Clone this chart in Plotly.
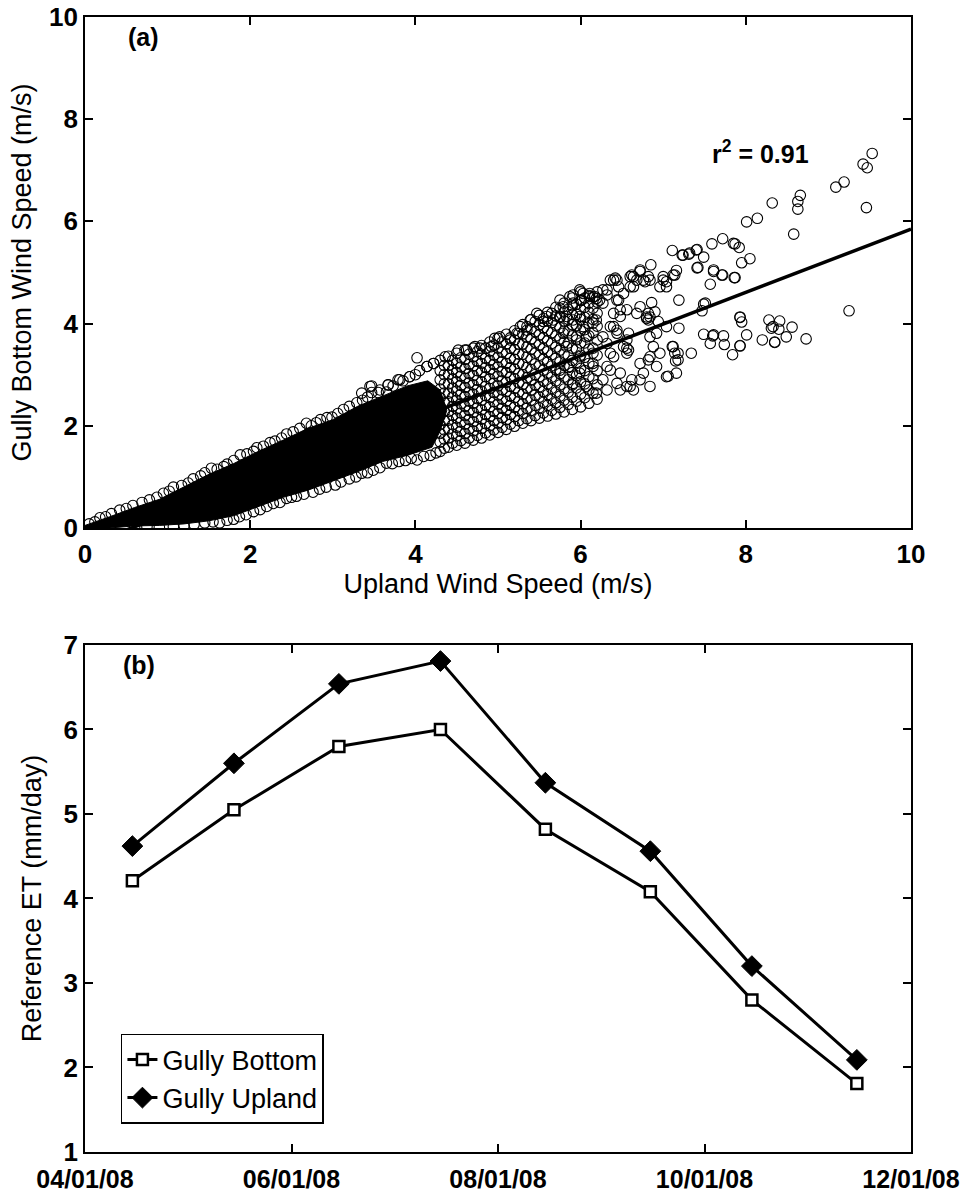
import plotly.graph_objects as go

# ---------------- Panel (a): wind speed scatter ----------------
# Saturated (solid black) core of the point cloud, outline
core_upland = [0.0, 0.0, 0.3, 0.6, 0.9, 1.2, 1.5, 1.8, 2.1, 2.4, 2.7, 3.0, 3.3, 3.6, 3.9, 4.15, 4.3, 4.38,
               4.3, 4.2, 3.9, 3.6, 3.3, 3.0, 2.7, 2.4, 2.1, 1.8, 1.5, 1.2, 0.9, 0.6, 0.3, 0.0]
core_bottom = [0.0, 0.05, 0.22, 0.4, 0.56, 0.8, 1.05, 1.26, 1.5, 1.72, 1.95, 2.12, 2.38, 2.58, 2.78, 2.88, 2.7, 2.3,
               1.9, 1.58, 1.42, 1.3, 1.1, 0.92, 0.74, 0.6, 0.42, 0.24, 0.14, 0.08, 0.05, 0.04, 0.0, 0.0]

# circles along the upper edge of the dense cloud
edge_upper = [(0.05, 0.08), (0.12, 0.12), (0.18, 0.2), (0.25, 0.22), (0.32, 0.28), (0.42, 0.35), (0.5, 0.38),
              (0.58, 0.44), (0.69, 0.5), (0.78, 0.55), (0.87, 0.6), (0.95, 0.68), (1.02, 0.72), (1.07, 0.8),
              (1.17, 0.83), (1.25, 0.88), (1.31, 0.96), (1.4, 1.02), (1.45, 1.08), (1.53, 1.17), (1.6, 1.15),
              (1.68, 1.2), (1.72, 1.25), (1.8, 1.32), (1.88, 1.43), (1.96, 1.45), (2.04, 1.5), (2.08, 1.57),
              (2.16, 1.6), (2.24, 1.67), (2.3, 1.7), (2.38, 1.76), (2.44, 1.84), (2.52, 1.88), (2.6, 1.95),
              (2.68, 2.05), (2.74, 2.0), (2.8, 2.06), (2.85, 2.12), (2.93, 2.16), (2.99, 2.17), (3.06, 2.24),
              (3.13, 2.32), (3.2, 2.38), (3.29, 2.45), (3.36, 2.5), (3.42, 2.56), (3.47, 2.78), (3.47, 2.65),
              (3.55, 2.65), (3.65, 2.66), (3.67, 2.8), (3.73, 2.78), (3.79, 2.9), (3.85, 2.88), (3.93, 2.96),
              (4.0, 3.0), (4.05, 3.08), (4.14, 3.16), (4.22, 3.22), (4.02, 3.33)]

# circles along the lower edge of the dense cloud
edge_lower = [(0.6, 0.02), (0.75, 0.03), (0.9, 0.02), (1.07, 0.03), (1.2, 0.05), (1.32, 0.07), (1.45, 0.1),
              (1.55, 0.12), (1.63, 0.1), (1.72, 0.15), (1.8, 0.17), (1.87, 0.22), (1.95, 0.26), (2.04, 0.32),
              (2.12, 0.36), (2.2, 0.42), (2.28, 0.48), (2.36, 0.5), (2.44, 0.58), (2.5, 0.6), (2.56, 0.62),
              (2.65, 0.66), (2.76, 0.7), (2.84, 0.76), (2.92, 0.8), (3.03, 0.84), (3.1, 0.9), (3.2, 0.96),
              (3.28, 1.0), (3.35, 1.07), (3.42, 1.08), (3.49, 1.13), (3.57, 1.18), (3.65, 1.27), (3.72, 1.26),
              (3.8, 1.3), (3.88, 1.32), (3.95, 1.36), (4.02, 1.33), (4.1, 1.4), (4.18, 1.42), (4.25, 1.47)]

# overlapping circles of the medium-density part of the cloud (upland speed, gully bottom speeds)
mesh_columns = [
    (4.3, [1.50, 1.68, 1.85, 2.02, 2.20, 2.38, 2.55, 2.72, 2.90, 3.08, 3.28]),
    (4.35, [1.56, 1.74, 1.92, 2.10, 2.28, 2.46, 2.64, 2.82, 3.00, 3.18]),
    (4.4, [1.58, 1.76, 1.94, 2.11, 2.28, 2.47, 2.64, 2.82, 3.00, 3.18, 3.36]),
    (4.45, [1.66, 1.84, 2.02, 2.20, 2.38, 2.56, 2.74, 2.92, 3.10, 3.28]),
    (4.5, [1.62, 1.80, 1.97, 2.15, 2.33, 2.50, 2.68, 2.86, 3.04, 3.22, 3.42]),
    (4.55, [1.71, 1.89, 2.07, 2.25, 2.43, 2.61, 2.79, 2.97, 3.15, 3.33]),
    (4.6, [1.66, 1.85, 2.03, 2.20, 2.38, 2.57, 2.75, 2.93, 3.12, 3.30, 3.48]),
    (4.65, [1.76, 1.94, 2.12, 2.30, 2.48, 2.66, 2.84, 3.02, 3.20, 3.40]),
    (4.7, [1.72, 1.90, 2.08, 2.26, 2.44, 2.62, 2.80, 2.98, 3.17, 3.35, 3.52]),
    (4.75, [1.81, 1.99, 2.17, 2.35, 2.53, 2.71, 2.89, 3.08, 3.26, 3.45]),
    (4.8, [1.76, 1.95, 2.13, 2.31, 2.50, 2.68, 2.86, 3.05, 3.22, 3.40, 3.57]),
    (4.85, [1.86, 2.04, 2.22, 2.40, 2.59, 2.77, 2.96, 3.14, 3.32, 3.52]),
    (4.9, [1.82, 2.00, 2.18, 2.37, 2.55, 2.73, 2.92, 3.10, 3.28, 3.46, 3.64]),
    (4.95, [1.92, 2.10, 2.28, 2.47, 2.65, 2.83, 3.02, 3.20, 3.38, 3.58]),
    (5.0, [1.87, 2.05, 2.24, 2.42, 2.60, 2.78, 2.97, 3.15, 3.34, 3.52, 3.71]),
    (5.05, [1.97, 2.16, 2.34, 2.52, 2.70, 2.88, 3.06, 3.25, 3.44, 3.64]),
    (5.1, [1.93, 2.12, 2.30, 2.48, 2.67, 2.85, 3.04, 3.22, 3.41, 3.60, 3.79]),
    (5.15, [2.03, 2.22, 2.40, 2.58, 2.77, 2.96, 3.14, 3.32, 3.52, 3.72]),
    (5.2, [1.99, 2.18, 2.36, 2.55, 2.73, 2.92, 3.11, 3.30, 3.49, 3.68, 3.86]),
    (5.25, [2.10, 2.30, 2.48, 2.66, 2.84, 3.02, 3.22, 3.40, 3.60, 3.80]),
    (5.3, [2.05, 2.24, 2.43, 2.62, 2.81, 3.00, 3.20, 3.40, 3.60, 3.80, 3.98]),
    (5.35, [2.14, 2.34, 2.54, 2.74, 2.94, 3.14, 3.34, 3.54, 3.74, 3.94]),
    (5.4, [2.10, 2.30, 2.50, 2.70, 2.90, 3.10, 3.30, 3.50, 3.70, 3.90, 4.08]),
    (5.45, [2.20, 2.40, 2.60, 2.80, 3.00, 3.21, 3.42, 3.63, 3.84, 4.04]),
    (5.5, [2.15, 2.35, 2.56, 2.76, 2.96, 3.17, 3.38, 3.58, 3.78, 3.98, 4.16]),
    (5.55, [2.25, 2.46, 2.67, 2.88, 3.09, 3.30, 3.51, 3.72, 3.92, 4.10]),
    (5.6, [2.19, 2.40, 2.61, 2.82, 3.03, 3.24, 3.45, 3.66, 3.86, 4.05, 4.22]),
    (5.65, [2.30, 2.52, 2.73, 2.95, 3.17, 3.39, 3.61, 3.82, 4.02, 4.20]),
    (5.7, [2.23, 2.45, 2.66, 2.88, 3.10, 3.32, 3.54, 3.76, 3.97, 4.15, 4.32]),
    (5.75, [2.36, 2.58, 2.80, 3.02, 3.25, 3.48, 3.70, 3.92, 4.12, 4.30]),
    (5.8, [2.27, 2.50, 2.72, 2.95, 3.18, 3.40, 3.63, 3.85, 4.05, 4.23, 4.40]),
    (5.85, [2.42, 2.66, 2.90, 3.14, 3.38, 3.62, 3.86, 4.08, 4.28]),
    (5.9, [2.32, 2.56, 2.80, 3.04, 3.28, 3.52, 3.76, 3.98, 4.18, 4.35, 4.50]),
    (5.95, [2.48, 2.74, 2.98, 3.24, 3.50, 3.74, 3.96, 4.18, 4.38]),
    (6.0, [2.37, 2.62, 2.86, 3.12, 3.38, 3.62, 3.86, 4.08, 4.28, 4.45, 4.62]),
    (6.05, [2.55, 2.82, 3.08, 3.34, 3.62, 3.88, 4.12, 4.32, 4.50]),
    (6.1, [2.44, 2.70, 2.96, 3.22, 3.50, 3.76, 4.00, 4.22, 4.40, 4.55]),
    (6.15, [2.64, 2.92, 3.22, 3.52, 3.82, 4.08, 4.30, 4.52]),
    (6.2, [2.52, 2.80, 3.08, 3.38, 3.68, 3.95, 4.20, 4.42, 4.62]),
]

# individually visible circles in the sparse part of the cloud
sparse = [
    (9.53, 7.33), (9.42, 7.12), (9.47, 7.05), (9.19, 6.77), (9.09, 6.67), (9.46, 6.27), (9.25, 4.25),
    (8.66, 6.51), (8.63, 6.39), (8.63, 6.24), (8.32, 6.36), (8.58, 5.75), (8.14, 6.06), (8.01, 5.99),
    (7.72, 5.66), (7.59, 5.56), (7.87, 5.56), (7.92, 5.49), (8.05, 5.27), (7.95, 5.19),
    (7.41, 5.45), (7.31, 5.36), (7.23, 5.34), (7.11, 5.43), (7.49, 5.30), (7.41, 5.09), (7.61, 5.02),
    (7.71, 4.95), (7.87, 4.90), (7.57, 4.77), (7.16, 5.04), (7.14, 4.95), (7.19, 4.46), (6.85, 5.15),
    (6.72, 5.02), (7.00, 4.92), (6.96, 4.72), (7.04, 4.82), (6.86, 4.41), (6.82, 4.20), (6.80, 4.10),
    (6.90, 4.23), (7.49, 4.38), (7.47, 4.25), (7.93, 4.12), (7.95, 4.03), (8.28, 4.07), (8.41, 4.05),
    (8.40, 3.89), (8.31, 3.91), (8.56, 3.93), (8.49, 3.74), (8.73, 3.70), (8.35, 3.64), (8.20, 3.68),
    (8.01, 3.78), (7.93, 3.56), (7.84, 3.39), (7.73, 3.76), (7.74, 3.59), (7.60, 3.76), (7.57, 3.61),
    (7.49, 3.79), (7.34, 3.42), (7.19, 3.91), (7.11, 3.55), (7.18, 3.42), (7.15, 3.27), (7.06, 2.97),
    (7.04, 3.94), (6.94, 4.04), (6.84, 3.74), (6.88, 3.55), (6.84, 3.35), (6.72, 3.22), (6.76, 3.03),
    (6.62, 2.90), (6.56, 3.52), (6.58, 3.81), (6.44, 3.87), (6.40, 4.20), (6.46, 4.46), (6.27, 4.40),
    (6.40, 4.85), (6.64, 4.92), (6.60, 4.72), (6.52, 4.59), (6.36, 3.42), (6.32, 3.16), (6.44, 2.83),
    (6.32, 2.70), (6.56, 2.77), (6.64, 2.70),
    (7.24, 5.34), (7.32, 5.38), (7.40, 5.44), (7.85, 5.57), (7.61, 5.05), (7.72, 4.95), (7.86, 4.90),
    (7.42, 5.10), (7.51, 4.40), (7.93, 4.13), (8.33, 3.94), (7.61, 3.78), (7.93, 3.57),
    (8.35, 3.63), (7.12, 4.95), (7.00, 4.85), (7.04, 4.72), (6.76, 4.85), (6.82, 4.92),
    (6.60, 4.92), (6.64, 4.72), (6.46, 4.72), (6.27, 4.66), (6.17, 4.53), (6.01, 4.46), (5.91, 4.56),
    (5.75, 4.46), (6.80, 4.13), (6.82, 4.07), (6.40, 3.94), (6.44, 3.81), (6.56, 3.68),
    (6.58, 3.48), (6.92, 3.81), (7.12, 3.55), (7.14, 3.42), (7.18, 3.29), (6.96, 3.42), (6.82, 3.29),
    (6.92, 3.16), (7.04, 2.96), (7.16, 3.03), (6.72, 2.90), (6.84, 2.77), (6.60, 2.77), (6.48, 3.03),
    (6.36, 3.09), (6.27, 2.90), (6.15, 3.16), (5.99, 3.03), (5.87, 3.16), (5.75, 3.09), (6.07, 2.77),
    (5.91, 2.83), (6.48, 2.70), (6.19, 2.64), (5.99, 4.66), (6.11, 4.53), (6.19, 4.49), (6.32, 4.56),
    (6.36, 4.85), (6.42, 4.89), (5.79, 4.33), (5.83, 4.14), (5.91, 4.07), (5.99, 4.14), (6.03, 3.94),
    (6.15, 4.01), (6.19, 4.07), (6.07, 3.74), (5.95, 3.68), (5.83, 3.55), (5.79, 3.81), (6.36, 3.94),
    (6.27, 3.74), (6.32, 3.61), (6.15, 3.42), (5.99, 3.35), (6.40, 3.35), (6.52, 3.55), (6.56, 3.42),
    (6.72, 4.33), (6.68, 4.20), (6.48, 4.14), (6.56, 4.27),
    (6.72, 5.05), (6.62, 4.95), (6.68, 4.85), (6.78, 4.82), (6.84, 4.85), (6.44, 4.85), (6.32, 4.66),
    (6.23, 4.46), (6.44, 4.46), (6.48, 4.27), (6.84, 4.13), (6.11, 4.59), (6.03, 4.59), (5.87, 4.53),
    (5.91, 4.40), (5.47, 4.20), (5.59, 4.14), (5.55, 4.04), (5.67, 4.07), (5.75, 4.14), (5.39, 4.07),
    (5.27, 3.94), (5.35, 3.87), (5.23, 3.81), (5.15, 3.68), (5.02, 3.74), (4.96, 3.71), (4.92, 3.55),
    (4.78, 3.52), (4.72, 3.55), (4.62, 3.48), (4.52, 3.48), (4.36, 3.35), (4.22, 3.22), (4.14, 3.16),
    (3.93, 2.96), (3.81, 2.90), (3.67, 2.80), (3.57, 2.70), (3.45, 2.77), (3.35, 2.64),
]

# least-squares fit line end points
fit_upland = [0.0, 10.0]
fit_bottom = [-0.35, 5.85]
r2_text = "r<sup>2</sup> = 0.91"

# ---------------- Panel (b): reference ET ----------------
months = ["2008-04-15", "2008-05-15", "2008-06-15", "2008-07-15",
          "2008-08-15", "2008-09-15", "2008-10-15", "2008-11-15"]
et_gully_bottom = [4.21, 5.05, 5.80, 6.00, 4.82, 4.08, 2.80, 1.81]
et_gully_upland = [4.62, 5.60, 6.54, 6.81, 5.37, 4.56, 3.20, 2.09]

# ---------------- assemble scatter points ----------------
upland_speed = [p[0] for p in edge_upper] + [p[0] for p in edge_lower]
bottom_speed = [p[1] for p in edge_upper] + [p[1] for p in edge_lower]
for cx, ys in mesh_columns:
    upland_speed += [cx] * len(ys)
    bottom_speed += ys
upland_speed += [p[0] for p in sparse]
bottom_speed += [p[1] for p in sparse]

FONT = "Liberation Sans, Arial, Helvetica, sans-serif"

fig = go.Figure()

fig.add_trace(go.Scatter(x=fit_upland, y=fit_bottom, mode="lines",
                         line=dict(color="black", width=3.5), showlegend=False,
                         xaxis="x", yaxis="y"))
fig.add_trace(go.Scatter(x=core_upland, y=core_bottom, mode="lines", fill="toself",
                         fillcolor="black", line=dict(color="black", width=1),
                         showlegend=False, xaxis="x", yaxis="y", hoverinfo="skip"))
fig.add_trace(go.Scatter(x=upland_speed, y=bottom_speed, mode="markers",
                         marker=dict(symbol="circle-open", size=10.5, color="black",
                                     line=dict(color="black", width=1.1)),
                         showlegend=False, xaxis="x", yaxis="y"))

fig.add_trace(go.Scatter(x=months, y=et_gully_bottom, mode="lines+markers", name="Gully Bottom",
                         line=dict(color="black", width=3),
                         marker=dict(symbol="square", size=11, color="white",
                                     line=dict(color="black", width=2.5)),
                         xaxis="x2", yaxis="y2"))
fig.add_trace(go.Scatter(x=months, y=et_gully_upland, mode="lines+markers", name="Gully Upland",
                         line=dict(color="black", width=3),
                         marker=dict(symbol="diamond", size=16, color="black",
                                     line=dict(color="black", width=1)),
                         xaxis="x2", yaxis="y2"))

tickfont = dict(family=FONT, size=26, color="black", weight="bold")
titlefont = dict(family=FONT, size=27, color="black")
common = dict(showline=True, linecolor="black", linewidth=1.6, mirror="ticks",
              ticks="inside", ticklen=8, tickwidth=1.5, tickcolor="black",
              showgrid=False, zeroline=False, automargin=False)

fig.update_layout(
    width=967, height=1192,
    margin=dict(l=85, r=56, t=17, b=40),
    paper_bgcolor="white", plot_bgcolor="white",
    font=dict(family=FONT, color="black"),
    xaxis=dict(domain=[0, 1], range=[0, 10], dtick=2, anchor="y", ticklabelstandoff=2, tickfont=tickfont,
               title=dict(text="Upland Wind Speed (m/s)", font=titlefont, standoff=4), **common),
    yaxis=dict(domain=[0.5498, 1], range=[0, 10], dtick=2, anchor="x", tickfont=tickfont,
               title=dict(text="Gully Bottom Wind Speed (m/s)", font=titlefont, standoff=10), **common),
    xaxis2=dict(domain=[0, 1], type="date", range=["2008-04-01", "2008-12-01"], ticklabelstandoff=4,
                tickfont=dict(family=FONT, size=25, color="black", weight="bold"),
                tick0="2008-04-01", dtick="M2", tickformat="%m/%d/%y", anchor="y2", **common),
    yaxis2=dict(domain=[0, 0.4467], range=[1, 7], dtick=1, anchor="x2", tickfont=tickfont,
                title=dict(text="Reference ET (mm/day)", font=titlefont, standoff=14), **common),
    legend=dict(x=0.0435, y=0.104, xanchor="left", yanchor="top",
                bordercolor="black", borderwidth=1.5, bgcolor="white",
                font=dict(family=FONT, size=27, color="black"), tracegroupgap=0),
    annotations=[
        dict(text="<b>(a)</b>", xref="x domain", yref="y domain", x=0.05, y=0.96,
             xanchor="left", yanchor="middle", showarrow=False,
             font=dict(family=FONT, size=25, color="black")),
        dict(text="<b>" + r2_text + "</b>", xref="x domain", yref="y domain", x=0.757, y=0.736,
             xanchor="left", yanchor="middle", showarrow=False,
             font=dict(family=FONT, size=25, color="black")),
        dict(text="<b>(b)</b>", xref="x2 domain", yref="y2 domain", x=0.044, y=0.96,
             xanchor="left", yanchor="middle", showarrow=False,
             font=dict(family=FONT, size=25, color="black")),
    ],
)

fig.write_html("out.html")
